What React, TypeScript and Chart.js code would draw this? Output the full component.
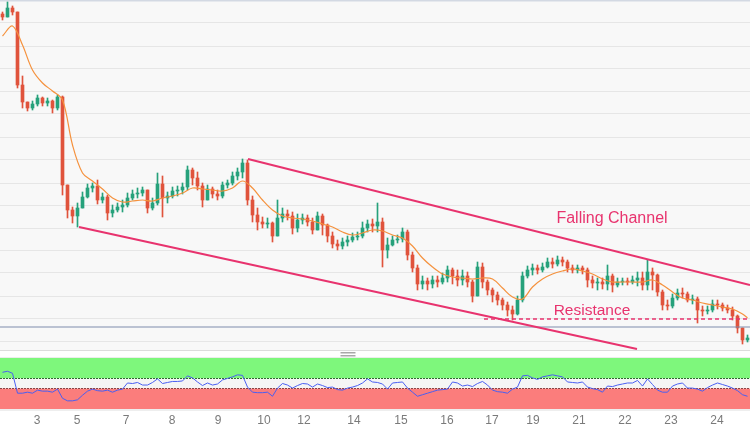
import React, { useEffect, useRef } from 'react';
import { Chart, registerables } from 'chart.js';

Chart.register(...registerables);

// ---- x axis (day labels at candle index positions) ----
const dayLabels = ['3', '5', '7', '8', '9', '10', '12', '14', '15', '16', '17', '19', '21', '22', '23', '24'];
const dayTickIndex = [6.9, 14.9, 24.7, 33.9, 43.1, 52.3, 60.3, 70.3, 79.7, 88.9, 97.9, 106.1, 115.3, 124.5, 133.7, 142.9];

// ---- price candles ----
const firstOpen = 154.86;
const closes = [
  154.83, 154.92, 154.88, 154.15, 153.98, 153.92, 153.96, 154.02, 153.97, 153.99,
  153.92, 154.03, 153.15, 152.90, 152.84, 152.92, 153.03, 153.12, 153.14, 153.00,
  153.03, 152.87, 152.90, 152.93, 152.95, 153.02, 153.06, 153.07, 153.10, 152.92,
  152.97, 153.16, 153.02, 153.04, 153.09, 153.10, 153.13, 153.30, 153.22, 153.14,
  153.00, 153.11, 153.06, 153.04, 153.15, 153.17, 153.24, 153.28, 153.37, 153.00,
  152.85, 152.78, 152.76, 152.77, 152.64, 152.82, 152.86, 152.84, 152.72, 152.80,
  152.82, 152.78, 152.70, 152.84, 152.75, 152.64, 152.56, 152.54, 152.58, 152.60,
  152.63, 152.64, 152.72, 152.76, 152.74, 152.78, 152.50, 152.55, 152.60, 152.61,
  152.68, 152.45, 152.32, 152.16, 152.19, 152.16, 152.20, 152.18, 152.22, 152.30,
  152.24, 152.20, 152.24, 152.18, 152.04, 152.33, 152.18, 152.10, 152.05, 152.00,
  151.95, 151.90, 151.86, 152.00, 152.24, 152.30, 152.32, 152.30, 152.33, 152.38,
  152.36, 152.40, 152.38, 152.32, 152.30, 152.32, 152.30, 152.20, 152.17, 152.18,
  152.16, 152.24, 152.15, 152.18, 152.19, 152.18, 152.20, 152.22, 152.15, 152.28,
  152.25, 152.08, 151.95, 151.94, 152.02, 152.07, 152.06, 152.00, 152.01, 151.90,
  151.89, 151.90, 151.96, 151.95, 151.92, 151.90, 151.84, 151.72, 151.60, 151.62,
];
const highs = [
  154.88, 154.98, 154.94, 154.88, 154.24, 153.98, 153.99, 154.05, 154.03, 154.02,
  154.00, 154.05, 154.04, 153.15, 152.93, 152.97, 153.08, 153.16, 153.17, 153.20,
  153.07, 153.05, 152.95, 152.97, 153.00, 153.07, 153.10, 153.12, 153.13, 153.10,
  153.02, 153.27, 153.24, 153.08, 153.13, 153.14, 153.17, 153.34, 153.32, 153.28,
  153.17, 153.15, 153.13, 153.10, 153.18, 153.20, 153.28, 153.32, 153.41, 153.40,
  153.04, 152.92, 152.83, 152.82, 152.78, 153.00, 152.92, 152.90, 152.88, 152.86,
  152.86, 152.85, 152.82, 152.88, 152.86, 152.76, 152.68, 152.60, 152.62, 152.64,
  152.67, 152.68, 152.78, 152.80, 152.81, 152.97, 152.82, 152.62, 152.64, 152.65,
  152.72, 152.70, 152.48, 152.35, 152.24, 152.22, 152.24, 152.24, 152.27, 152.34,
  152.32, 152.30, 152.30, 152.28, 152.20, 152.38, 152.37, 152.20, 152.12, 152.08,
  152.02, 151.98, 151.94, 152.04, 152.28, 152.34, 152.36, 152.35, 152.37, 152.42,
  152.42, 152.44, 152.43, 152.40, 152.35, 152.35, 152.34, 152.32, 152.24, 152.22,
  152.22, 152.35, 152.26, 152.22, 152.22, 152.22, 152.24, 152.28, 152.28, 152.40,
  152.32, 152.26, 152.10, 152.00, 152.06, 152.11, 152.12, 152.08, 152.05, 152.03,
  151.94, 151.94, 152.00, 152.00, 151.97, 151.95, 151.93, 151.85, 151.72, 151.65,
];
const lows = [
  154.80, 154.83, 154.85, 154.12, 153.92, 153.89, 153.90, 153.94, 153.94, 153.94,
  153.87, 153.90, 153.05, 152.82, 152.77, 152.73, 152.93, 153.02, 153.08, 152.96,
  152.97, 152.80, 152.83, 152.88, 152.88, 152.93, 153.00, 153.02, 153.04, 152.87,
  152.90, 152.95, 152.83, 152.97, 153.02, 153.04, 153.06, 153.10, 153.15, 153.10,
  152.93, 153.00, 153.02, 153.00, 153.02, 153.12, 153.15, 153.20, 153.22, 152.95,
  152.78, 152.70, 152.72, 152.72, 152.58, 152.64, 152.78, 152.80, 152.66, 152.68,
  152.76, 152.74, 152.66, 152.70, 152.65, 152.58, 152.52, 152.50, 152.51, 152.54,
  152.58, 152.60, 152.62, 152.68, 152.68, 152.68, 152.33, 152.42, 152.54, 152.57,
  152.58, 152.40, 152.28, 152.10, 152.11, 152.10, 152.12, 152.13, 152.16, 152.18,
  152.16, 152.14, 152.15, 152.13, 151.98, 152.05, 152.12, 152.05, 151.98, 151.95,
  151.90, 151.84, 151.80, 151.85, 151.98, 152.22, 152.25, 152.26, 152.28, 152.32,
  152.32, 152.34, 152.34, 152.28, 152.27, 152.27, 152.26, 152.13, 152.12, 152.10,
  152.11, 152.10, 152.08, 152.13, 152.15, 152.15, 152.16, 152.14, 152.10, 152.10,
  152.10, 152.04, 151.90, 151.90, 151.92, 152.00, 152.02, 151.98, 151.96, 151.77,
  151.84, 151.86, 151.88, 151.91, 151.89, 151.87, 151.80, 151.67, 151.56, 151.58,
];

// ---- moving average (one reading every 2 candles, last one at the final candle) ----
const maStep = 2;
const maValues = [
  154.64, 154.74, 154.55, 154.30, 154.17, 154.09, 154.00, 153.55, 153.27, 153.19,
  153.11, 153.02, 152.98, 152.99, 153.00, 152.99, 153.02, 153.04, 153.07, 153.12,
  153.11, 153.10, 153.09, 153.12, 153.19, 153.12, 153.00, 152.90, 152.84, 152.82,
  152.81, 152.79, 152.76, 152.73, 152.68, 152.65, 152.67, 152.70, 152.69, 152.65,
  152.62, 152.54, 152.42, 152.33, 152.26, 152.23, 152.22, 152.21, 152.22, 152.21,
  152.12, 152.03, 152.01, 152.13, 152.21, 152.26, 152.29, 152.31, 152.29, 152.26,
  152.21, 152.18, 152.18, 152.18, 152.18, 152.20, 152.15, 152.08, 152.02, 152.00,
  151.97, 151.95, 151.93, 151.91, 151.86, 151.82,
];

// ---- RSI (per candle) ----
const rsiValues = [
  72, 74, 70, 31, 31, 33, 31, 37, 35, 35, 33, 39, 21, 16, 16, 18, 27, 35, 39, 36,
  35, 37, 33, 37, 39, 51, 50, 52, 47, 47, 52, 59, 50, 52, 54, 54, 55, 65, 61, 53,
  46, 51, 47, 49, 57, 60, 63, 67, 66, 43, 33, 32, 32, 33, 25, 41, 50, 47, 41, 46,
  50, 49, 43, 49, 46, 42, 43, 38, 37, 41, 43, 46, 51, 59, 53, 52, 49, 39, 51, 52,
  53, 41, 33, 25, 28, 31, 34, 37, 38, 39, 53, 51, 45, 47, 44, 50, 54, 47, 37, 34,
  33, 31, 39, 43, 65, 66, 61, 58, 63, 65, 67, 65, 63, 53, 52, 51, 53, 43, 40, 38,
  33, 45, 44, 47, 49, 51, 51, 56, 45, 59, 48, 37, 33, 33, 45, 49, 51, 41, 41, 39,
  35, 42, 47, 51, 48, 45, 41, 36, 28, 25,
];
const rsiUpper = 60;
const rsiLower = 40;

// ---- drawn studies ----
const upperChannelIdx = [49.1, 149.5];
const upperChannelPrice = [153.41, 152.15];
const lowerChannelIdx = [15.3, 126.9];
const lowerChannelPrice = [152.73, 151.51];
const resistanceIdx = [96.3, 149.5];
const resistancePrice = 151.81;
const supportPrice = 151.73;
const noteTexts = ['Falling Channel', 'Resistance'];
const noteIdx = [121.9, 117.9];
const notePrice = [152.81, 151.89];
const noteSizes = [16, 15.5];

// ---- horizontal grid levels of the price panel ----
const gridLevels = [154.77, 154.54, 154.31, 154.08, 153.86, 153.63, 153.40, 153.17, 152.95, 152.72, 152.49, 152.27, 152.04, 151.81, 151.58];

const PINK = '#e8336e';
const UP = '#26a17b';
const DOWN = '#e0533c';

export default function App() {
  const ref = useRef<HTMLCanvasElement | null>(null);

  useEffect(() => {
    const canvas = ref.current;
    if (!canvas) return;

    const opens = closes.map((_, i) => (i === 0 ? firstOpen : closes[i - 1]));
    const colors = closes.map((c, i) => (c >= opens[i] ? UP : DOWN));
    const bodies = closes.map((c, i) => ({ x: i, y: [opens[i], c] }));
    const wicks = closes.map((c, i) => ({
      x: i,
      y: [Math.min(lows[i], opens[i], c), Math.max(highs[i], opens[i], c)],
    }));
    const ma = maValues.map((v, k) => ({ x: Math.min(k * maStep, closes.length - 1), y: v }));
    const rsi = rsiValues.map((v, i) => ({ x: i, y: v }));

    const panelsPlugin = {
      id: 'panels',
      beforeDraw(chart: any) {
        const { ctx, scales } = chart;
        const y = scales.y;
        const r = scales.rsi;
        const left = chart.chartArea.left;
        const right = chart.chartArea.right;
        const w = right - left;
        ctx.save();
        ctx.fillStyle = '#ffffff';
        ctx.fillRect(0, 0, chart.width, chart.height);
        // price panel
        ctx.fillStyle = '#f8f8f8';
        ctx.fillRect(left, y.top, w, y.bottom - y.top);
        ctx.fillStyle = '#d3d9e3';
        ctx.fillRect(left, y.top, w, 1.5);
        // separator
        const sepTop = y.bottom;
        const bandTop = r.getPixelForValue(100);
        ctx.fillStyle = '#ffffff';
        ctx.fillRect(left, sepTop, w, bandTop - sepTop);
        ctx.fillStyle = '#dcdcdc';
        ctx.fillRect(left, sepTop, w, 1);
        ctx.fillStyle = '#ececec';
        ctx.fillRect(left, bandTop - 1, w, 1);
        // drag handle
        const hx = left + w * 0.454;
        const hy = (sepTop + bandTop) / 2;
        ctx.fillStyle = '#a8a8a8';
        ctx.fillRect(hx, hy - 2, 15, 1.5);
        ctx.fillRect(hx, hy + 1, 15, 1.5);
        // RSI bands
        const pUp = r.getPixelForValue(rsiUpper);
        const pLo = r.getPixelForValue(rsiLower);
        const p0 = r.getPixelForValue(0);
        ctx.fillStyle = '#7ef77c';
        ctx.fillRect(left, bandTop, w, pUp - bandTop);
        ctx.fillStyle = '#f5f5f5';
        ctx.fillRect(left, pUp, w, pLo - pUp);
        ctx.fillStyle = '#fb7d7c';
        ctx.fillRect(left, pLo, w, p0 - pLo);
        ctx.fillStyle = '#eeeeee';
        ctx.fillRect(left, p0, w, 2);
        ctx.lineWidth = 1;
        ctx.setLineDash([2, 1]);
        ctx.strokeStyle = '#2f6a2f';
        ctx.beginPath();
        ctx.moveTo(left, Math.round(pUp) + 0.5);
        ctx.lineTo(right, Math.round(pUp) + 0.5);
        ctx.stroke();
        ctx.strokeStyle = '#8a4444';
        ctx.beginPath();
        ctx.moveTo(left, Math.round(pLo) - 0.5);
        ctx.lineTo(right, Math.round(pLo) - 0.5);
        ctx.stroke();
        ctx.restore();
      },
      afterDatasetsDraw(chart: any) {
        const { ctx, scales } = chart;
        ctx.save();
        ctx.fillStyle = PINK;
        ctx.textAlign = 'center';
        ctx.textBaseline = 'middle';
        noteTexts.forEach((t, i) => {
          ctx.font = `${noteSizes[i]}px "Liberation Sans", Arial, sans-serif`;
          ctx.fillText(t, scales.x.getPixelForValue(noteIdx[i]), scales.y.getPixelForValue(notePrice[i]));
        });
        ctx.restore();
      },
    };

    const chart = new Chart(canvas, {
      type: 'bar',
      data: {
        datasets: [
          {
            type: 'line',
            data: rsi,
            yAxisID: 'rsi',
            borderColor: '#4a5ff2',
            borderWidth: 1,
            pointRadius: 0,
            order: -2,
          },
          {
            type: 'line',
            data: ma,
            yAxisID: 'y',
            borderColor: '#f5923e',
            borderWidth: 1.2,
            pointRadius: 0,
            tension: 0.35,
            order: -1,
          },
          {
            type: 'line',
            data: [{ x: -0.5, y: supportPrice }, { x: 149.5, y: supportPrice }],
            yAxisID: 'y',
            borderColor: '#7f8cab',
            borderWidth: 1.1,
            pointRadius: 0,
            order: -3,
          },
          {
            type: 'line',
            data: upperChannelIdx.map((x, i) => ({ x, y: upperChannelPrice[i] })),
            yAxisID: 'y',
            borderColor: PINK,
            borderWidth: 2,
            pointRadius: 0,
            order: -4,
          },
          {
            type: 'line',
            data: lowerChannelIdx.map((x, i) => ({ x, y: lowerChannelPrice[i] })),
            yAxisID: 'y',
            borderColor: PINK,
            borderWidth: 2,
            pointRadius: 0,
            order: -4,
          },
          {
            type: 'line',
            data: resistanceIdx.map((x) => ({ x, y: resistancePrice })),
            yAxisID: 'y',
            borderColor: PINK,
            borderWidth: 1.5,
            borderDash: [4, 3],
            pointRadius: 0,
            order: -4,
          },
          {
            type: 'bar',
            data: bodies as any,
            yAxisID: 'y',
            backgroundColor: colors,
            barThickness: 3,
            minBarLength: 1,
            grouped: false,
            order: 0,
          },
          {
            type: 'bar',
            data: wicks as any,
            yAxisID: 'y',
            backgroundColor: colors,
            barThickness: 1,
            grouped: false,
            order: 1,
          },
        ],
      },
      options: {
        animation: false,
        responsive: false,
        events: [],
        layout: { padding: 0 },
        plugins: { legend: { display: false }, tooltip: { enabled: false } },
        scales: {
          x: {
            type: 'linear',
            offset: false,
            min: -0.5,
            max: 149.5,
            grid: { display: false, drawTicks: false },
            border: { display: false },
            afterBuildTicks: (axis: any) => {
              axis.ticks = dayTickIndex.map((v) => ({ value: v }));
            },
            afterFit: (axis: any) => {
              axis.height = 21;
            },
            ticks: {
              autoSkip: false,
              maxRotation: 0,
              padding: 4,
              color: '#7a7a7a',
              font: { family: '"Liberation Sans", Arial, sans-serif', size: 12 },
              callback: (_v: any, i: number) => dayLabels[i],
            },
          },
          rsi: {
            type: 'linear',
            position: 'left',
            stack: 'panes',
            stackWeight: 59,
            min: 0,
            max: 115.7,
            grid: { display: false, drawTicks: false },
            border: { display: false },
            ticks: { display: false },
          },
          y: {
            type: 'linear',
            position: 'left',
            stack: 'panes',
            stackWeight: 350,
            min: 151.5,
            max: 155.0,
            grid: { color: '#e6e6e6', lineWidth: 1, drawTicks: false },
            border: { display: false },
            ticks: { display: false },
            afterBuildTicks: (axis: any) => {
              axis.ticks = gridLevels.map((v) => ({ value: v }));
            },
          },
        },
      } as any,
      plugins: [panelsPlugin],
    });

    return () => chart.destroy();
  }, []);

  return (
    <div style={{ position: 'fixed', left: 0, top: 0, width: 750, height: 430, background: '#fff' }}>
      <canvas ref={ref} width={750} height={430} style={{ display: 'block' }} />
    </div>
  );
}
